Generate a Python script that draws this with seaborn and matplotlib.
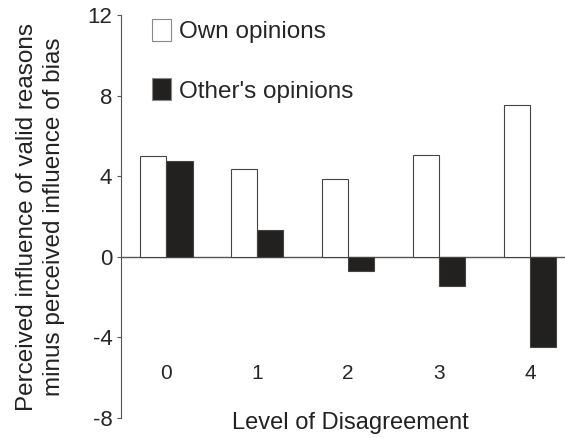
import pandas as pd
import numpy as np
import matplotlib.pyplot as plt
import seaborn as sns

# Data
levels = ['0', '1', '2', '3', '4']
own_opinions = [4.99, 4.35, 3.88, 5.04, 7.52]
others_opinions = [4.76, 1.32, -0.69, -1.45, -4.46]
series_names = ['Own opinions', "Other's opinions"]
y_ticks = [-8, -4, 0, 4, 8, 12]

df = pd.DataFrame({
    'Level': levels * 2,
    'Value': own_opinions + others_opinions,
    'Series': [series_names[0]] * len(levels) + [series_names[1]] * len(levels),
})

sns.set_style('white')
plt.rcParams['font.family'] = ['Liberation Sans', 'DejaVu Sans']

fig = plt.figure(figsize=(5.65, 4.38), dpi=100)
ax = fig.add_axes([0.2136, 0.0457, 0.7864, 0.920])

sns.barplot(data=df, x='Level', y='Value', hue='Series', order=levels,
            hue_order=series_names,
            palette={series_names[0]: 'white', series_names[1]: '#231f20'},
            width=0.58, gap=0, edgecolor='#444444', linewidth=0.8,
            errorbar=None, ax=ax)

ax.axhline(0, color='#555555', lw=1.0, zorder=0.5)

ax.set_ylim(-8, 12)
ax.set_xlim(-0.5, 4.385)
ax.set_yticks(y_ticks)
ax.set_yticklabels([str(t) for t in y_ticks], fontsize=16)

for side in ['top', 'right']:
    ax.spines[side].set_visible(False)
ax.spines['left'].set_color('#555555')
ax.spines['left'].set_linewidth(0.8)
ax.spines['bottom'].set_position(('data', -5.2))
ax.spines['bottom'].set_visible(False)
ax.tick_params(axis='y', direction='out', length=3, width=0.8, color='#555555', pad=3, left=True)
ax.tick_params(axis='x', length=0, labelsize=15, pad=2)

ax.set_xlabel('Level of Disagreement', fontsize=17, color='#222222')
ax.xaxis.set_label_coords(0.516, 0.014)
ax.set_ylabel('Perceived influence of valid reasons\nminus perceived influence of bias',
              fontsize=17.5, labelpad=16, color='#222222', linespacing=1.3)

leg = ax.legend(loc='upper left', bbox_to_anchor=(0.07, 0.99), frameon=False,
                fontsize=17.5, borderpad=0, borderaxespad=0, labelspacing=1.45,
                handlelength=0.8, handleheight=1.0, handletextpad=0.3)
for h in leg.legend_handles:
    h.set_edgecolor('#888888')

fig.savefig('out.png', dpi=100)
print("Saved: out.png")
